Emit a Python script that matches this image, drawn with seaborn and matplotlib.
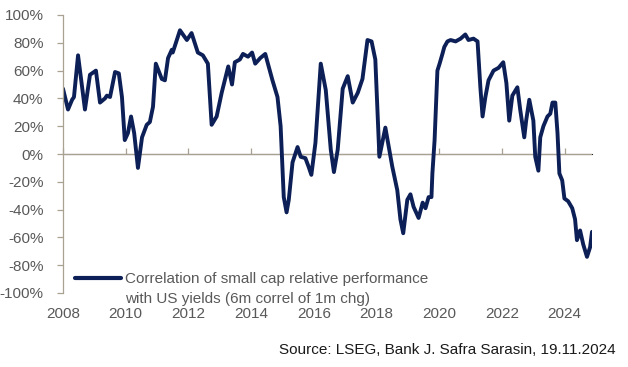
import matplotlib
matplotlib.use("Agg")
import matplotlib.pyplot as plt
import seaborn as sns
import pandas as pd
from matplotlib.lines import Line2D
from matplotlib.ticker import FuncFormatter

# Data (decimal year, correlation in %)
years = [
    2008.00, 2008.16, 2008.29, 2008.35, 2008.48, 2008.70, 2008.86, 2009.05, 2009.18, 2009.34,
    2009.40, 2009.50, 2009.66, 2009.78, 2009.88, 2009.97, 2010.07, 2010.17, 2010.27, 2010.39,
    2010.52, 2010.67, 2010.77, 2010.87, 2010.96, 2011.15, 2011.25, 2011.35, 2011.47, 2011.50,
    2011.73, 2011.95, 2012.10, 2012.30, 2012.46, 2012.62, 2012.74, 2012.90, 2013.06, 2013.27,
    2013.39, 2013.48, 2013.64, 2013.74, 2013.90, 2014.03, 2014.13, 2014.29, 2014.45, 2014.68,
    2014.84, 2014.94, 2015.04, 2015.13, 2015.20, 2015.32, 2015.48, 2015.58, 2015.73, 2015.83,
    2015.92, 2016.05, 2016.22, 2016.38, 2016.54, 2016.64, 2016.76, 2016.92, 2017.08, 2017.24,
    2017.40, 2017.55, 2017.71, 2017.84, 2017.96, 2018.09, 2018.28, 2018.50, 2018.66, 2018.76,
    2018.85, 2018.98, 2019.08, 2019.18, 2019.34, 2019.47, 2019.56, 2019.66, 2019.75, 2019.78,
    2019.85, 2019.94, 2020.01, 2020.10, 2020.16, 2020.26, 2020.36, 2020.52, 2020.68, 2020.83,
    2020.93, 2021.09, 2021.22, 2021.31, 2021.38, 2021.47, 2021.57, 2021.73, 2021.89, 2022.04,
    2022.14, 2022.23, 2022.33, 2022.49, 2022.58, 2022.71, 2022.77, 2022.87, 2023.00, 2023.06,
    2023.16, 2023.22, 2023.32, 2023.45, 2023.54, 2023.61, 2023.70, 2023.77, 2023.83, 2023.92,
    2023.99, 2024.11, 2024.24, 2024.33, 2024.39, 2024.49, 2024.59, 2024.71, 2024.81, 2024.87,
]
correl = [
    47, 32, 39, 41, 71, 32, 57, 60, 37, 40,
    42, 41, 59, 58, 41, 10, 15, 27, 15, -10,
    12, 21, 23, 34, 65, 54, 53, 69, 75, 73,
    89, 82, 87, 73, 71, 65, 21, 27, 44, 63,
    50, 66, 68, 72, 70, 73, 65, 69, 72, 53,
    41, 20, -31, -42, -33, -6, 5, -2, -3, -9,
    -15, 8, 65, 46, 3, -13, 3, 47, 56, 37,
    44, 54, 82, 81, 68, -2, 19, -9, -26, -47,
    -57, -33, -29, -38, -46, -35, -39, -31, -31, -14,
    10, 60, 65, 72, 77, 81, 82, 81, 83, 86,
    82, 83, 81, 48, 27, 41, 53, 60, 62, 66,
    51, 24, 42, 48, 32, 12, 24, 39, 24, -2,
    -12, 12, 20, 27, 29, 37, 37, 15, -14, -19,
    -32, -34, -39, -47, -62, -55, -65, -74, -67, -56,
]
year_ticks = list(range(2008, 2025, 2))
pct_ticks = list(range(-100, 101, 20))
label_1 = "Correlation of small cap relative performance"
label_2 = "with US yields (6m correl of 1m chg)"
source = "Source: LSEG, Bank J. Safra Sarasin, 19.11.2024"

df = pd.DataFrame({"year": years, "correl": correl})

sns.set_style("white")
plt.rcParams["font.family"] = ["Liberation Sans", "DejaVu Sans"]

navy = "#0c1f56"
axis_col = "#a9a293"
text_col = "#595959"

fig = plt.figure(figsize=(6.28, 3.67), dpi=100)
ax = fig.add_axes([63 / 628, 1 - 293 / 367, 529 / 628, 278 / 367])

sns.lineplot(data=df, x="year", y="correl", ax=ax, color=navy, linewidth=2.8)

ax.set_xlim(2008, 2024.87)
ax.set_ylim(-100, 100)
ax.set_yticks(pct_ticks)
ax.yaxis.set_major_formatter(FuncFormatter(lambda v, p: f"{v:.0f}%"))
ax.set_xticks(year_ticks)
ax.set_xticklabels([str(y) for y in year_ticks])
ax.set_xlabel("")
ax.set_ylabel("")

for s in ["top", "right", "bottom"]:
    ax.spines[s].set_visible(False)
ax.spines["left"].set_color(axis_col)
ax.spines["left"].set_linewidth(0.9)
ax.tick_params(axis="y", direction="out", length=4, width=0.9, color=axis_col,
               labelsize=11, labelcolor=text_col, pad=10, left=True)
ax.tick_params(axis="x", length=0, labelsize=11, labelcolor=text_col, pad=10)

# zero line carrying the year tick marks
ax.axhline(0, color=axis_col, linewidth=0.9, zorder=1)
sec = ax.secondary_xaxis(0.5)
sec.set_xticks(year_ticks)
sec.set_xticklabels([])
sec.spines["bottom"].set_visible(False)
sec.tick_params(axis="x", direction="out", length=4, width=0.9, color=axis_col)

handles = [Line2D([], [], color=navy, linewidth=3.0), Line2D([], [], color="none")]
leg = ax.legend(handles, [label_1, label_2], loc="lower left", frameon=False,
                bbox_to_anchor=(0.023, -0.045), borderaxespad=0, borderpad=0,
                handlelength=3.0, handletextpad=0.25, labelspacing=0.35, fontsize=11)
for t in leg.get_texts():
    t.set_color(text_col)

fig.text(616 / 628, 1 - 350 / 367, source, ha="right", va="center", fontsize=11, color="#1a1a1a")

plt.savefig("out.png", dpi=100)
